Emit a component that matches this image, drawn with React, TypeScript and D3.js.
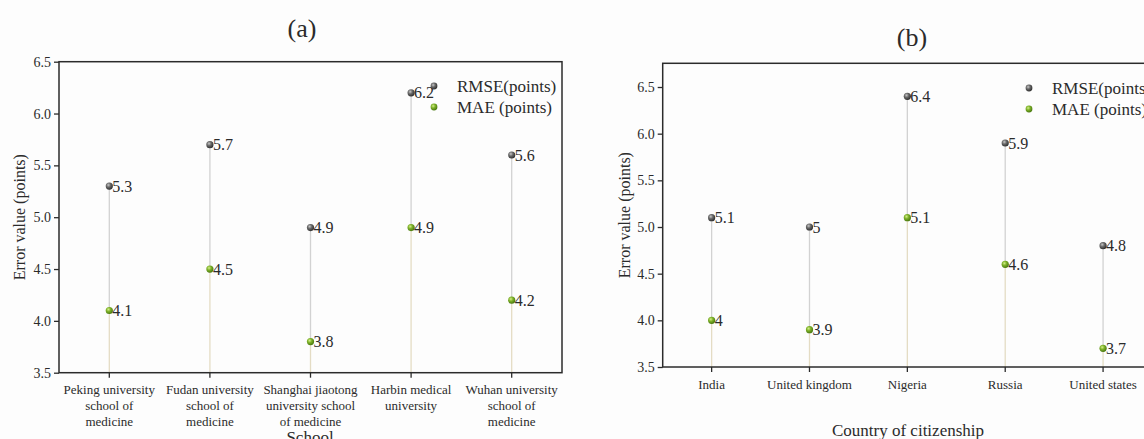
import React from 'react';
import * as d3 from 'd3';

// panel (a): by school
const schools = [
  'Peking university\nschool of\nmedicine',
  'Fudan university\nschool of\nmedicine',
  'Shanghai jiaotong\nuniversity school\nof medicine',
  'Harbin medical\nuniversity',
  'Wuhan university\nschool of\nmedicine',
];
const schoolRmse = [5.3, 5.7, 4.9, 6.2, 5.6];
const schoolMae = [4.1, 4.5, 3.8, 4.9, 4.2];

// panel (b): by country
const countries = ['India', 'United kingdom', 'Nigeria', 'Russia', 'United states'];
const countryRmse = [5.1, 5, 6.4, 5.9, 4.8];
const countryMae = [4, 3.9, 5.1, 4.6, 3.7];

const yTicks = [3.5, 4.0, 4.5, 5.0, 5.5, 6.0, 6.5];
const legendLabels = ['RMSE(points)', 'MAE (points)'];

const FONT = '"Liberation Serif", "Times New Roman", serif';
const INK = '#2b2b2b';

const drawPanel = (svg, o) => {
  const g = svg.append('g');

  const x = d3.scaleBand().domain(o.cats).range([o.left, o.right]);
  const y = d3.scaleLinear().domain([3.5, o.yMax]).range([o.bottom, o.top]);
  const cx = (d) => x(d) + x.bandwidth() / 2;

  // y axis
  const ya = g.append('g')
    .attr('transform', `translate(${o.left},0)`)
    .call(d3.axisLeft(y).tickValues(yTicks).tickFormat(d3.format('.1f')).tickSize(5).tickPadding(3));
  ya.select('.domain').remove();
  ya.selectAll('line').attr('stroke', INK).attr('stroke-width', 1.3);
  ya.selectAll('text').attr('fill', INK).style('font-family', FONT).style('font-size', '14px');

  // x ticks
  g.selectAll('.xtick')
    .data(o.cats)
    .join('line')
    .attr('x1', cx).attr('x2', cx)
    .attr('y1', o.bottom).attr('y2', o.bottom + 5)
    .attr('stroke', INK).attr('stroke-width', 1.3);

  // x labels, multi-line
  const lbl = g.selectAll('.xlabel')
    .data(o.cats)
    .join('text')
    .attr('text-anchor', 'middle')
    .attr('fill', INK)
    .style('font-family', FONT)
    .style('font-size', '13px');
  lbl.each(function (d) {
    const t = d3.select(this);
    d.split('\n').forEach((line, i) => {
      t.append('tspan')
        .attr('x', cx(d))
        .attr('y', o.labelY + i * 16)
        .text(line);
    });
  });

  // stems
  o.cats.forEach((c, i) => {
    g.append('line')
      .attr('x1', cx(c)).attr('x2', cx(c))
      .attr('y1', y(3.5)).attr('y2', y(o.mae[i]))
      .attr('stroke', '#e4dcc4').attr('stroke-width', 1.3);
    g.append('line')
      .attr('x1', cx(c)).attr('x2', cx(c))
      .attr('y1', y(o.mae[i])).attr('y2', y(o.rmse[i]))
      .attr('stroke', '#d2d2d2').attr('stroke-width', 1.3);
  });

  // frame
  g.append('rect')
    .attr('x', o.left).attr('y', o.top)
    .attr('width', o.right - o.left).attr('height', o.bottom - o.top)
    .attr('fill', 'none').attr('stroke', INK).attr('stroke-width', 1.5);

  const series = [
    { vals: o.rmse, fill: 'url(#gradGray)' },
    { vals: o.mae, fill: 'url(#gradGreen)' },
  ];
  series.forEach((s) => {
    g.selectAll(null)
      .data(o.cats)
      .join('circle')
      .attr('cx', cx)
      .attr('cy', (d, i) => y(s.vals[i]))
      .attr('r', 3.6)
      .attr('fill', s.fill);
    g.selectAll(null)
      .data(o.cats)
      .join('text')
      .attr('x', (d) => cx(d) + 3)
      .attr('y', (d, i) => y(s.vals[i]))
      .attr('dy', '0.35em')
      .attr('fill', INK)
      .style('font-family', FONT)
      .style('font-size', '16px')
      .text((d, i) => String(s.vals[i]));
  });

  // legend
  legendLabels.forEach((t, i) => {
    g.append('circle')
      .attr('cx', o.legendX).attr('cy', o.legendY + i * 21)
      .attr('r', 3.4)
      .attr('fill', i === 0 ? 'url(#gradGray)' : 'url(#gradGreen)');
    g.append('text')
      .attr('x', o.legendX + 23).attr('y', o.legendY + i * 21)
      .attr('dy', '0.35em')
      .attr('fill', INK)
      .style('font-family', FONT)
      .style('font-size', '17px')
      .text(t);
  });

  // titles
  g.append('text')
    .attr('x', o.titleX).attr('y', o.titleY)
    .attr('text-anchor', 'middle')
    .attr('fill', INK)
    .style('font-family', FONT)
    .style('font-size', '26px')
    .text(o.title);
  g.append('text')
    .attr('x', o.xTitleX).attr('y', o.xTitleY)
    .attr('text-anchor', 'middle')
    .attr('fill', INK)
    .style('font-family', FONT)
    .style('font-size', '17px')
    .text(o.xTitle);
  g.append('text')
    .attr('transform', `translate(${o.yTitleX},${(o.top + o.bottom) / 2 + 0}) rotate(-90)`)
    .attr('text-anchor', 'middle')
    .attr('fill', INK)
    .style('font-family', FONT)
    .style('font-size', '16px')
    .text('Error value (points)');
};

const App = () => {
  const svgRef = React.useRef(null);

  React.useEffect(() => {
    const svg = d3.select(svgRef.current);
    svg.selectAll('*').remove();

    const defs = svg.append('defs');
    const grad = (id, hi, mid, lo) => {
      const gr = defs.append('radialGradient').attr('id', id)
        .attr('cx', '38%').attr('cy', '35%').attr('r', '65%');
      gr.append('stop').attr('offset', '0%').attr('stop-color', hi);
      gr.append('stop').attr('offset', '45%').attr('stop-color', mid);
      gr.append('stop').attr('offset', '100%').attr('stop-color', lo);
    };
    grad('gradGray', '#c8c8c8', '#6a6a6a', '#303030');
    grad('gradGreen', '#d4f08a', '#7fb22a', '#4a7a10');

    drawPanel(svg, {
      cats: schools, rmse: schoolRmse, mae: schoolMae,
      left: 59, right: 562, top: 61.7, bottom: 372.7, yMax: 6.5,
      labelY: 394, title: '(a)', titleX: 302, titleY: 37,
      xTitle: 'School', xTitleX: 310, xTitleY: 443, yTitleX: 25,
      legendX: 434, legendY: 86,
    });
    drawPanel(svg, {
      cats: countries, rmse: countryRmse, mae: countryMae,
      left: 662.7, right: 1152, top: 63.3, bottom: 367, yMax: 6.754,
      labelY: 388.5, title: '(b)', titleX: 912, titleY: 46,
      xTitle: 'Country of citizenship', xTitleX: 908, xTitleY: 436, yTitleX: 630,
      legendX: 1029, legendY: 88,
    });
  }, []);

  return (
    <svg
      ref={svgRef}
      width={1144}
      height={439}
      style={{ position: 'absolute', left: 0, top: 0, background: '#fdfdfd' }}
    />
  );
};

export default App;
